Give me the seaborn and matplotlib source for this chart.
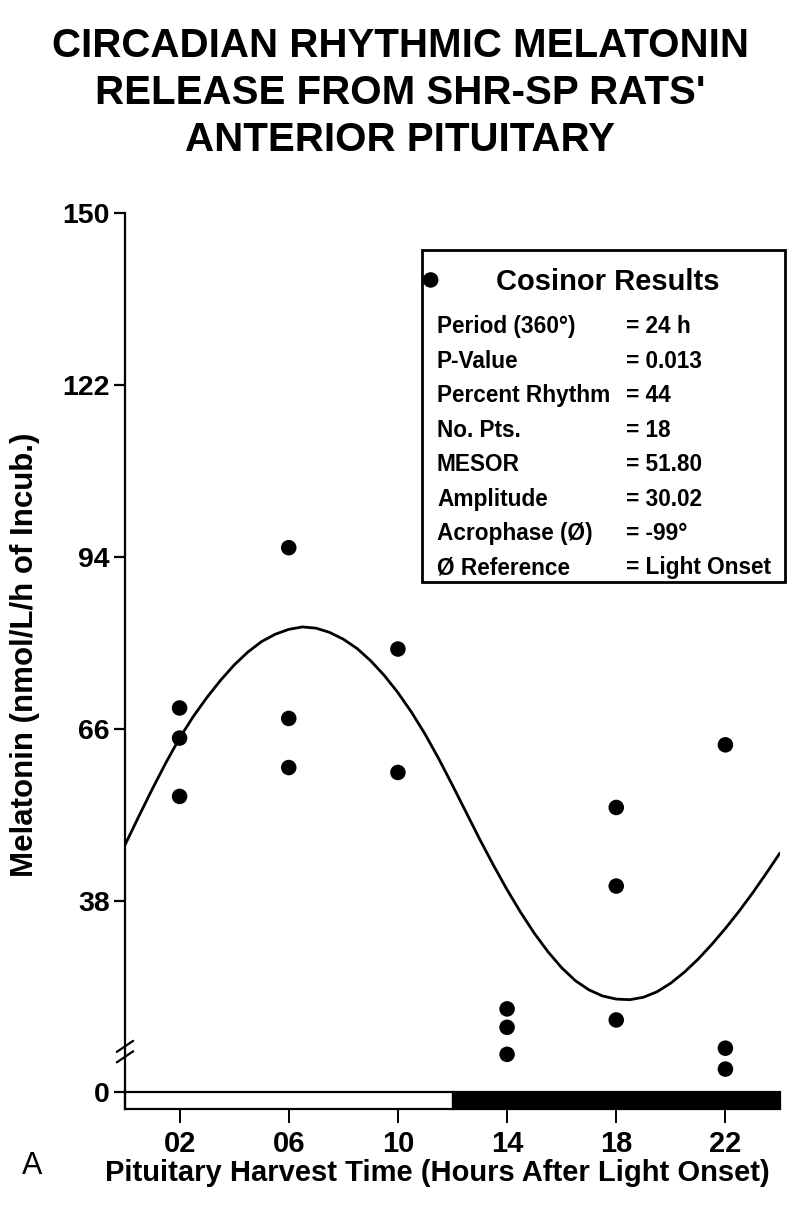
import matplotlib
matplotlib.use("Agg")
import pandas as pd
import matplotlib.pyplot as plt
import seaborn as sns
from matplotlib.patches import Rectangle

# --------------------------------------------------------------
# Data
# --------------------------------------------------------------
harvest_hour = [2, 2, 2, 6, 6, 6, 10, 10, 11.2, 14, 14, 14, 18, 18, 18, 22, 22, 22]
melatonin = [69.4, 64.5, 55.0, 95.5, 67.7, 59.7, 79.0, 58.9, 139.1,
             20.4, 17.4, 13.0, 53.2, 40.4, 18.6, 63.4, 14.0, 10.6]

# fitted cosinor curve, traced every half hour
fit_hour = [h / 2 for h in range(49)]
fit_melatonin = [47.1, 51.7, 56.2, 60.5, 64.5, 68.0, 71.1, 73.9, 76.4, 78.5,
                 80.2, 81.4, 82.2, 82.6, 82.4, 81.7, 80.6, 79.1, 77.1, 74.7,
                 71.9, 68.7, 65.1, 61.1, 56.8, 52.4, 48.0, 43.8, 39.8, 36.1,
                 32.7, 29.7, 27.1, 25.0, 23.5, 22.5, 22.0, 21.9, 22.3, 23.2,
                 24.6, 26.4, 28.5, 30.9, 33.5, 36.3, 39.3, 42.5, 45.8]

# light / dark phases
phase_start = [0, 12]
phase_end = [12, 24]
phase_color = ["white", "black"]

x_ticks = [2, 6, 10, 14, 18, 22]
x_ticklabels = ["02", "06", "10", "14", "18", "22"]
y_ticks = [38, 66, 94, 122, 150]

cosinor_labels = ["Period (360°)", "P-Value", "Percent Rhythm", "No. Pts.",
                  "MESOR", "Amplitude", "Acrophase (Ø)", "Ø Reference"]
cosinor_values = ["= 24 h", "= 0.013", "= 44", "= 18",
                  "= 51.80", "= 30.02", "= -99°", "= Light Onset"]

title = "CIRCADIAN RHYTHMIC MELATONIN\nRELEASE FROM SHR-SP RATS'\nANTERIOR PITUITARY"

# --------------------------------------------------------------
# Style
# --------------------------------------------------------------
sns.set_style("white")
plt.rcParams["font.family"] = ["Liberation Sans", "DejaVu Sans"]
plt.rcParams["font.weight"] = "bold"
for key in ["text.color", "axes.labelcolor", "xtick.color", "ytick.color",
            "axes.edgecolor"]:
    plt.rcParams[key] = "black"

ZERO_POS = 6.9      # where the broken axis shows "0"
BAR_BOTTOM = 4.1
BREAK_AT = [12.6, 14.3]

fig = plt.figure(figsize=(8, 12.05), dpi=100)
ax = fig.add_axes([0.15625, 1 - 1109 / 1205, 0.81875, (1109 - 213) / 1205])

df = pd.DataFrame({"hour": harvest_hour, "melatonin": melatonin})
fit = pd.DataFrame({"hour": fit_hour, "melatonin": fit_melatonin})

sns.lineplot(data=fit, x="hour", y="melatonin", color="black", lw=2.0, ax=ax, zorder=3)
sns.scatterplot(data=df, x="hour", y="melatonin", color="black", s=125,
                edgecolor="none", ax=ax, zorder=4)

# light / dark bar under the zero line
for s, e, c in zip(phase_start, phase_end, phase_color):
    ax.add_patch(Rectangle((s, BAR_BOTTOM), e - s, ZERO_POS - BAR_BOTTOM,
                           facecolor=c, edgecolor="black", lw=1.6, zorder=1,
                           clip_on=False))

ax.set_xlim(0, 24)
ax.set_ylim(BAR_BOTTOM, 150)
sns.despine(ax=ax, top=True, right=True, bottom=True)
ax.spines["left"].set_linewidth(1.6)
ax.spines["left"].set_bounds(BAR_BOTTOM, 150)

ax.set_xticks(x_ticks)
ax.set_xticklabels(x_ticklabels)
ax.set_yticks([ZERO_POS] + y_ticks)
ax.set_yticklabels(["0"] + [str(v) for v in y_ticks])
ax.tick_params(axis="y", direction="out", length=8, width=1.6, pad=3,
               labelsize=20.5, left=True)
ax.tick_params(axis="x", direction="inout", length=20, width=1.4, pad=5,
               labelsize=21, bottom=True)
for lab in ax.get_xticklabels() + ax.get_yticklabels():
    lab.set_fontweight("bold")

# axis break marks
for b in BREAK_AT:
    ax.plot([-0.3, 0.3], [b - 0.9, b + 0.9], color="black", lw=1.6,
            clip_on=False, zorder=5)

ax.set_xlabel("")
ax.set_ylabel("Melatonin (nmol/L/h of Incub.)", fontsize=22.5, fontweight="bold")
ax.yaxis.set_label_coords(-0.13, 0.507)

fig.text(437 / 800, 1 - 1173 / 1205,
         "Pituitary Harvest Time (Hours After Light Onset)",
         ha="center", va="center", fontsize=21, fontweight="bold")
fig.text(32 / 800, 1 - 1166 / 1205, "A", ha="center", va="center",
         fontsize=22, fontweight="normal")

fig.text(0.5, 1 - 93 / 1205, title, ha="center", va="center", fontsize=29,
         fontweight="bold", linespacing=1.29)

# cosinor results box
fig.add_artist(Rectangle((422 / 800, 1 - 582 / 1205), 363 / 800, 332 / 1205,
                         transform=fig.transFigure, fill=False,
                         edgecolor="black", lw=2))
fig.text(608 / 800, 1 - 282 / 1205, "Cosinor Results", ha="center",
         va="center", fontsize=21, fontweight="bold")
for i, (lab, val) in enumerate(zip(cosinor_labels, cosinor_values)):
    yy = 1 - (327 + i * 34.4) / 1205
    fig.text(437 / 800, yy, lab, ha="left", va="center", fontsize=16.3,
             fontweight="bold")
    fig.text(626 / 800, yy, val, ha="left", va="center", fontsize=16.3,
             fontweight="bold")

fig.savefig("out.png", dpi=100)
